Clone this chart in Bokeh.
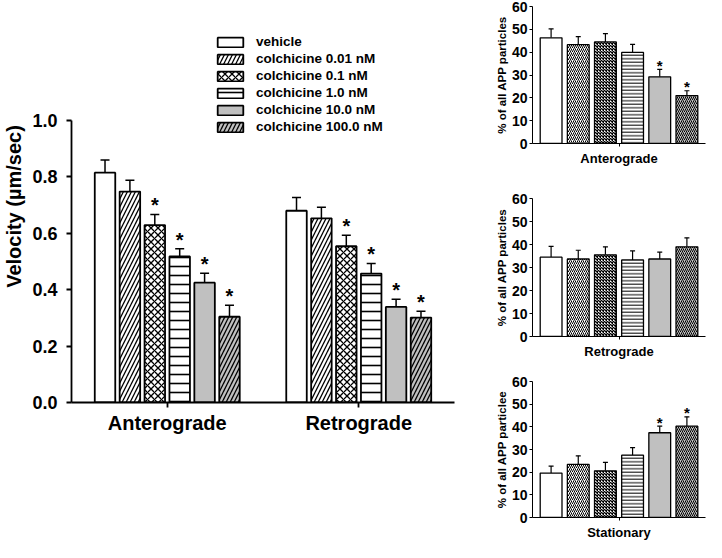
from bokeh.plotting import figure
from bokeh.models import (ColumnDataSource, FactorRange, FixedTicker, Whisker, TeeHead,
                          Legend, LegendItem, Label, NumeralTickFormatter)
from bokeh.transform import dodge
from bokeh.layouts import row, column
from bokeh.embed import file_html
from bokeh.resources import INLINE
from bokeh.core.properties import value

# ---------------- data ----------------
series_names = ["vehicle", "colchicine 0.01 nM", "colchicine 0.1 nM",
                "colchicine 1.0 nM", "colchicine 10.0 nM", "colchicine 100.0 nM"]

groups_A = ["Anterograde", "Retrograde"]
# panel A: velocity (um/sec), [anterograde, retrograde] per series
vel_mean = [[0.815, 0.680], [0.748, 0.653], [0.629, 0.554],
            [0.518, 0.457], [0.425, 0.339], [0.304, 0.301]]
vel_sem = [[0.045, 0.047], [0.040, 0.039], [0.038, 0.039],
           [0.027, 0.036], [0.033, 0.027], [0.041, 0.023]]
vel_sig = [[False, False], [False, False], [True, True],
           [True, True], [True, True], [True, True]]

# panels B-D: % of all APP particles, one value per series
antero_pct = [46.3, 43.3, 44.5, 39.9, 29.2, 21.0]
antero_sem = [3.9, 3.5, 3.6, 3.5, 3.3, 2.1]
antero_sig = [False, False, False, False, True, True]

retro_pct = [34.5, 33.7, 35.5, 33.3, 33.7, 39.0]
retro_sem = [4.7, 3.8, 3.5, 3.9, 3.0, 3.9]
retro_sig = [False, False, False, False, False, False]

stat_pct = [19.6, 23.4, 20.6, 27.5, 37.4, 40.3]
stat_sem = [3.1, 3.8, 3.7, 3.3, 2.9, 4.1]
stat_sig = [False, False, False, False, True, True]

yticks_A = [0.0, 0.2, 0.4, 0.6, 0.8, 1.0]
yticks_small = [0, 10, 20, 30, 40, 50, 60]

# ---------------- styles ----------------
FONT = "Liberation Sans"
fills = ["white", "white", "white", "white", "#c0c0c0", "#c0c0c0"]
hatches = [None, "/", "x", "-", None, "/"]
hatch_scale_A = [8, 8, 7, 9, 8, 8]
hatch_weight_A = [1, 1.3, 1.3, 1.6, 1, 1.3]
hatch_scale_s = [4, 4, 3, 3.5, 4, 4]
hatch_weight_s = [1, 1, 1.3, 1, 1, 1]


def style_axes(p, tick_size, label_size, line_w, tick_out, tick_std):
    for ax in (p.xaxis, p.yaxis):
        ax.axis_line_width = line_w
        ax.axis_line_color = "black"
        ax.major_tick_line_width = line_w
        ax.major_tick_out = tick_out
        ax.major_tick_in = 0
        ax.minor_tick_line_color = None
        ax.major_label_text_font = FONT
        ax.major_label_text_font_style = "bold"
        ax.major_label_text_color = "black"
        ax.axis_label_text_font = FONT
        ax.axis_label_text_font_style = "bold"
        ax.axis_label_text_font_size = label_size
        ax.axis_label_text_color = "black"
    p.yaxis.major_label_text_font_size = tick_size
    p.yaxis.major_label_standoff = tick_std
    p.grid.visible = False
    p.outline_line_color = None


# ---------------- panel A ----------------
pA = figure(width=460, height=542, x_range=FactorRange(*groups_A), y_range=(0, 1.39),
            output_backend="svg", toolbar_location=None,
            min_border_left=68, min_border_right=6, min_border_top=10, min_border_bottom=140)
style_axes(pA, "18px", "20px", 1.8, 5, 9)
pA.xaxis.major_label_text_font_size = "20px"
pA.xaxis.major_label_standoff = 4
pA.yaxis.ticker = FixedTicker(ticks=yticks_A)
pA.yaxis.formatter = NumeralTickFormatter(format="0.0")
pA.yaxis.bounds = (0, 1.0)
pA.yaxis.axis_label = "Velocity (µm/sec)"
pA.yaxis.axis_label_standoff = 4

items = []
for i, name in enumerate(series_names):
    off = (i - 2.5) * 0.13
    src = ColumnDataSource(dict(
        cat=groups_A, top=vel_mean[i],
        up=[m + e for m, e in zip(vel_mean[i], vel_sem[i])],
        star=["*" if s else "" for s in vel_sig[i]]))
    xs = dodge("cat", off, range=pA.x_range)
    r = pA.vbar(x=xs, top="top", bottom=0, width=0.107, source=src,
                fill_color=fills[i], line_color="black", line_width=1.8,
                hatch_pattern=hatches[i], hatch_color="black",
                hatch_scale=hatch_scale_A[i], hatch_weight=hatch_weight_A[i])
    pA.add_layout(Whisker(source=src, base=xs, lower="top", upper="up", dimension="height",
                          line_color="black", line_width=1.5,
                          upper_head=TeeHead(size=9, line_width=1.5, line_color="black"),
                          lower_head=None))
    pA.text(x=xs, y="up", text="star", source=src, text_font=value(FONT),
            text_font_style="bold", text_font_size="20px", text_align="center",
            text_baseline="middle", y_offset=-9, text_color="black")
    items.append(LegendItem(label=name, renderers=[r]))

legend = Legend(items=items, location=(143, 268), glyph_width=32, glyph_height=12,
                label_height=12, spacing=2, padding=0, margin=0, label_standoff=10,
                border_line_color=None, background_fill_alpha=0,
                label_text_font=FONT, label_text_font_style="bold",
                label_text_font_size="13.5px", label_text_color="black")
pA.add_layout(legend)
pA.add_layout(Label(x=-55, y=283, x_units="screen", y_units="screen", text="A",
                    text_font=FONT, text_font_style="bold", text_font_size="22px",
                    text_align="center", text_baseline="middle"))


# ---------------- panels B-D ----------------
def small_panel(cat, means, sems, sigs, ylabel, letter, height, mbt, mbb, letter_x, letter_y):
    p = figure(width=246, height=height, x_range=FactorRange(cat), y_range=(0, 60),
               output_backend="svg", toolbar_location=None,
               min_border_left=72, min_border_right=1, min_border_top=mbt, min_border_bottom=mbb)
    style_axes(p, "14px", "11.5px", 1, 3, 2)
    p.xaxis.major_label_text_font_size = "13px"
    p.xaxis.major_label_standoff = 4
    p.yaxis.ticker = FixedTicker(ticks=yticks_small)
    p.yaxis.axis_label = ylabel
    p.yaxis.axis_label_standoff = 1
    for i in range(len(means)):
        off = (i - 2.5) * 0.157
        src = ColumnDataSource(dict(cat=[cat], top=[means[i]], up=[means[i] + sems[i]],
                                    star=["*" if sigs[i] else ""]))
        xs = dodge("cat", off, range=p.x_range)
        p.vbar(x=xs, top="top", bottom=0, width=0.126, source=src,
               fill_color=fills[i], line_color="black", line_width=1.3,
               hatch_pattern=hatches[i], hatch_color="black",
               hatch_scale=hatch_scale_s[i], hatch_weight=hatch_weight_s[i])
        p.add_layout(Whisker(source=src, base=xs, lower="top", upper="up", dimension="height",
                             line_color="black", line_width=1.2,
                             upper_head=TeeHead(size=5, line_width=1.2, line_color="black"),
                             lower_head=None))
        p.text(x=xs, y="up", text="star", source=src, text_font=value(FONT),
               text_font_style="bold", text_font_size="15px", text_align="center",
               text_baseline="middle", y_offset=-4, text_color="black")
    p.add_layout(Label(x=letter_x, y=letter_y, x_units="screen", y_units="screen", text=letter,
                       text_font=FONT, text_font_style="bold", text_font_size="20px",
                       text_align="center", text_baseline="middle"))
    return p


pB = small_panel("Anterograde", antero_pct, antero_sem, antero_sig,
                 "% of all APP particles", "B", 180, 6, 37, -51, 133)
pC = small_panel("Retrograde", retro_pct, retro_sem, retro_sig,
                 "% of all APP particles", "C", 188, 18, 32, -52, 135)
pD = small_panel("Stationary", stat_pct, stat_sem, stat_sig,
                 "% of all APP particlee", "D", 174, 13, 23, -51, 130)

layout = row(pA, column(pB, pC, pD, spacing=0), spacing=0)
open("out.html", "w").write(file_html(layout, INLINE))
